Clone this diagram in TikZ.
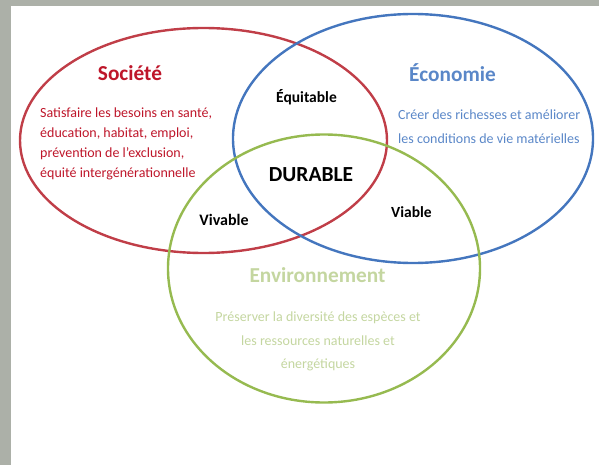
\documentclass[tikz,border=0pt]{standalone}
\usepackage{fontspec}
\setmainfont{Carlito}
\usetikzlibrary{calc}
\definecolor{socline}{RGB}{192,62,72}
\definecolor{soctext}{RGB}{190,22,42}
\definecolor{ecoline}{RGB}{68,118,190}
\definecolor{ecotext}{RGB}{90,135,200}
\definecolor{envline}{RGB}{150,186,80}
\definecolor{envtext}{RGB}{196,214,160}
\definecolor{rockgray}{RGB}{172,176,168}
\tikzset{
	ring/.style={line width=2.4pt},
	pillar/.style={font=\bfseries\fontsize{21.3}{26}\selectfont},
	blurb/.style={font=\fontsize{14}{20}\selectfont, inner sep=0pt},
	quality/.style={font=\bfseries\fontsize{15.5}{18}\selectfont}
}

\begin{document}
\begin{tikzpicture}[x=1pt, y=-1pt]
			%%%%% START %%%%%
			\useasboundingbox (0, 0) rectangle (599, 465);
			
			\fill[rockgray] (0, 0) rectangle (599, 6);
			\fill[rockgray] (0, 0) rectangle (11, 465);
			
			\draw[ring, color=socline] (203.5, 140.5) ellipse (183.5 and 112.5);
			\draw[ring, color=ecoline] (413, 138.5) ellipse (180 and 124.5);
			\draw[ring, color=envline] (324, 268.5) ellipse (156 and 134);
			
			\node[pillar, color=soctext] (societe) at (130, 73) {Société};
			\node[blurb, color=soctext, anchor=north west, align=left] (societetxt) at (40, 107.5)
				{Satisfaire les besoins en santé,\\éducation, habitat, emploi,\\prévention de l’exclusion,\\équité intergénérationnelle};
			
			\node[pillar, color=ecotext] (economie) at (452.5, 73) {Économie};
			\node[blurb, color=ecotext, anchor=north west, align=left, font=\fontsize{14}{23.5}\selectfont] (economietxt) at (398, 110)
				{Créer des richesses et améliorer\\les conditions de vie matérielles};
			
			\node[pillar, color=envtext] (environnement) at (317.5, 275) {Environnement};
			\node[blurb, color=envtext, anchor=north, align=center, font=\fontsize{14}{23.5}\selectfont] (environnementtxt) at (318, 312)
				{Préserver la diversité des espèces et\\les ressources naturelles et\\énergétiques};
			
			\node[quality] (equitable) at (306.5, 97) {Équitable};
			\node[quality, font=\bfseries\fontsize{16}{18}\selectfont] (vivable) at (224, 220) {Vivable};
			\node[quality] (viable) at (411.5, 212) {Viable};
			\node[font=\bfseries\fontsize{21.5}{24}\selectfont] (durable) at (311, 175) {DURABLE};
			%%%%% END %%%%%
		\end{tikzpicture}
\end{document}
